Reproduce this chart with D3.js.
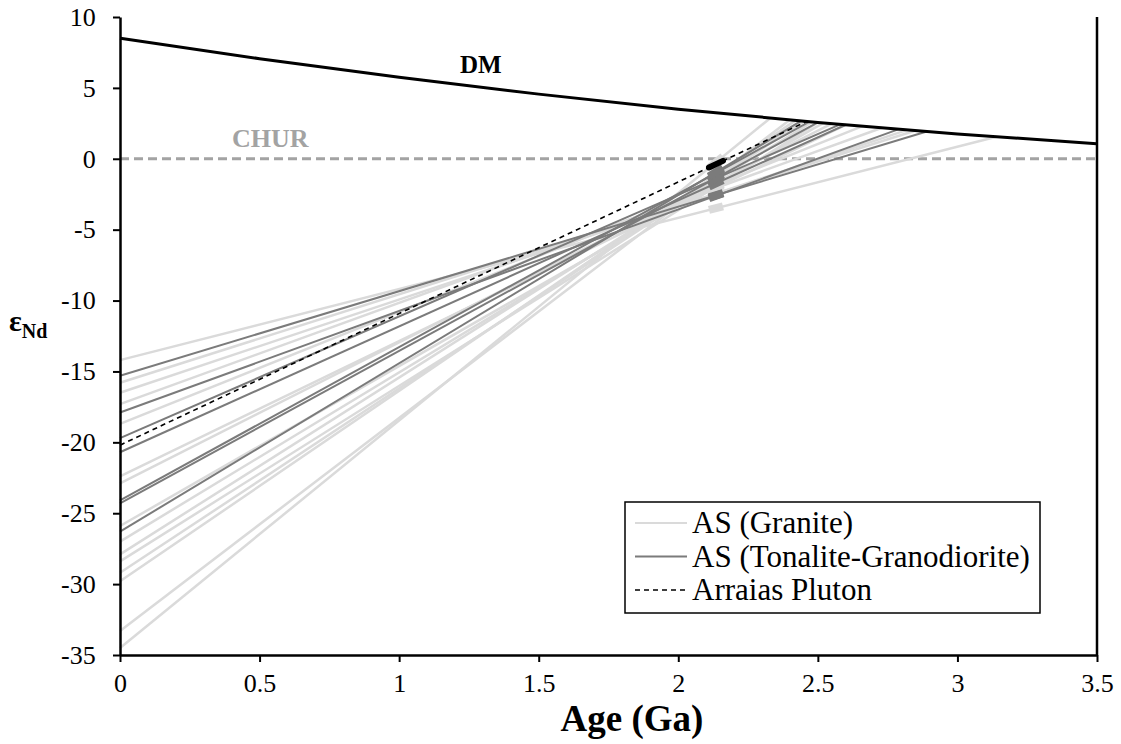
<!DOCTYPE html>
<html><head><meta charset="utf-8">
<script src="https://cdn.jsdelivr.net/npm/d3@7"></script>
<style>body{margin:0;background:#fff}svg{display:block}svg text{font-family:"Liberation Serif","Times New Roman",Tinos,Times,"DejaVu Serif",serif !important}</style>
</head><body><svg id="c" width="1121" height="744"></svg>
<script>
// Depleted mantle curve (age Ga, εNd)
const dmAge = [0, 0.5, 1, 1.5, 2, 2.5, 3, 3.5];
const dmEps = [8.5, 7.06, 5.75, 4.56, 3.5, 2.56, 1.75, 1.06];
// AS Granite: present-day εNd and TDM (Ga)
const graniteE0  = [-14.2, -15.8, -16.5, -17.3, -18.7, -22.4, -22.9, -25.9, -27.0, -27.9, -28.4, -29.2, -29.8, -33.3, -34.5];
const graniteTdm = [3.14, 2.85, 2.82, 2.73, 2.66, 2.60, 2.55, 2.52, 2.48, 2.45, 2.50, 2.45, 2.42, 2.40, 2.33];
// AS Tonalite-Granodiorite
const tonaliteE0  = [-15.3, -17.9, -19.7, -20.7, -24.1, -24.3, -26.3];
const tonaliteTdm = [2.89, 2.79, 2.58, 2.60, 2.47, 2.50, 2.44];
// Arraias Pluton
const arraiasE0 = [-20.2];
const arraiasTdm = [2.46];
// crystallization age window (Ga)
const crystAge = [2.11, 2.16];
const xTicks = [0, 0.5, 1, 1.5, 2, 2.5, 3, 3.5];
const yTicks = [10, 5, 0, -5, -10, -15, -20, -25, -30, -35];
const legendLabels = ["AS (Granite)", "AS (Tonalite-Granodiorite)", "Arraias Pluton"];

const svg = d3.select("#c");
const x = d3.scaleLinear().domain([0, 3.5]).range([120, 1097]);
const y = d3.scaleLinear().domain([-35, 10]).range([655, 17]);
const dm = d3.scaleLinear().domain(dmAge).range(dmEps);

function lineData(e0, tdm) {
  const e1 = dm(tdm);
  const f = t => e0 + (e1 - e0) * t / tdm;
  return {full: [[0, e0], [tdm, e1]], cryst: crystAge.map(t => [t, f(t)])};
}
const path = d3.line().x(d => x(d[0])).y(d => y(d[1]));

// CHUR
svg.append("line").attr("x1", x(0)).attr("x2", x(3.5)).attr("y1", y(0)).attr("y2", y(0))
  .attr("stroke", "#a3a3a3").attr("stroke-width", 3).attr("stroke-dasharray", "9,5");

function drawGroup(e0s, tdms, color, w, dash, cw, cap) {
  const g = svg.append("g");
  e0s.forEach((e, i) => {
    const d = lineData(e, tdms[i]);
    g.append("path").attr("d", path(d.full)).attr("fill", "none").attr("stroke", color)
      .attr("stroke-width", w).attr("stroke-dasharray", dash);
  });
  e0s.forEach((e, i) => {
    const d = lineData(e, tdms[i]);
    g.append("path").attr("d", path(d.cryst)).attr("fill", "none").attr("stroke", color)
      .attr("stroke-width", cw).attr("stroke-linecap", cap);
  });
}
drawGroup(graniteE0, graniteTdm, "#dadada", 2.5, null, 8, "butt");
drawGroup(tonaliteE0, tonaliteTdm, "#7b7b7b", 2, null, 8, "butt");
drawGroup(arraiasE0, arraiasTdm, "#000", 1.6, "5,4", 6, "round");

// DM curve
svg.append("path").attr("d", d3.line().x(d => x(d)).y((d, i) => y(dmEps[i])).curve(d3.curveNatural)(dmAge))
  .attr("fill", "none").attr("stroke", "#000").attr("stroke-width", 3);

svg.append("text").attr("x", 460).attr("y", 73).attr("font-size", 25).attr("font-weight", "bold").text("DM");
svg.append("text").attr("x", 232).attr("y", 147).attr("font-size", 26).attr("font-weight", "bold").attr("fill", "#a3a3a3").text("CHUR");

// axes
const xa = svg.append("g").attr("transform", `translate(0,${y(-35)})`)
  .call(d3.axisBottom(x).tickValues(xTicks).tickFormat(d => String(d)).tickSize(7).tickSizeOuter(0));
const ya = svg.append("g").attr("transform", `translate(${x(0)},0)`)
  .call(d3.axisLeft(y).tickValues(yTicks).tickFormat(d => String(d)).tickSize(7).tickSizeOuter(0));
[xa, ya].forEach(a => {
  a.select(".domain").attr("stroke", "#000").attr("stroke-width", 2.5);
  a.selectAll(".tick line").attr("stroke", "#000").attr("stroke-width", 2);
  a.selectAll(".tick text").attr("font-size", 26).attr("fill", "#000");
});
xa.selectAll(".tick text").attr("dy", "1.05em");
ya.selectAll(".tick text").attr("dx", "-0.55em");
svg.append("line").attr("x1", x(3.5)).attr("x2", x(3.5)).attr("y1", y(10)).attr("y2", y(-35))
  .attr("stroke", "#000").attr("stroke-width", 2.5);

svg.append("text").attr("x", 632).attr("y", 731).attr("text-anchor", "middle").attr("font-size", 37)
  .attr("font-weight", "bold").text("Age (Ga)");
const yt = svg.append("text").attr("x", 9).attr("y", 331).attr("font-size", 30).attr("font-weight", "bold");
yt.append("tspan").text("ε");
yt.append("tspan").attr("font-size", 20).attr("dy", 7).text("Nd");

// legend
const lg = svg.append("g");
lg.append("rect").attr("x", 625).attr("y", 502).attr("width", 415).attr("height", 111)
  .attr("fill", "#fff").attr("stroke", "#000").attr("stroke-width", 1.5);
const legStyles = [["#dadada", 2, null], ["#7b7b7b", 2, null], ["#000", 1.6, "5,4"]];
legendLabels.forEach((t, i) => {
  const cy = 523 + i * 33.5;
  lg.append("line").attr("x1", 635).attr("x2", 687).attr("y1", cy).attr("y2", cy)
    .attr("stroke", legStyles[i][0]).attr("stroke-width", legStyles[i][1]).attr("stroke-dasharray", legStyles[i][2]);
  lg.append("text").attr("x", 692).attr("y", cy + 10).attr("font-size", 31).text(t);
});
</script></body></html>
